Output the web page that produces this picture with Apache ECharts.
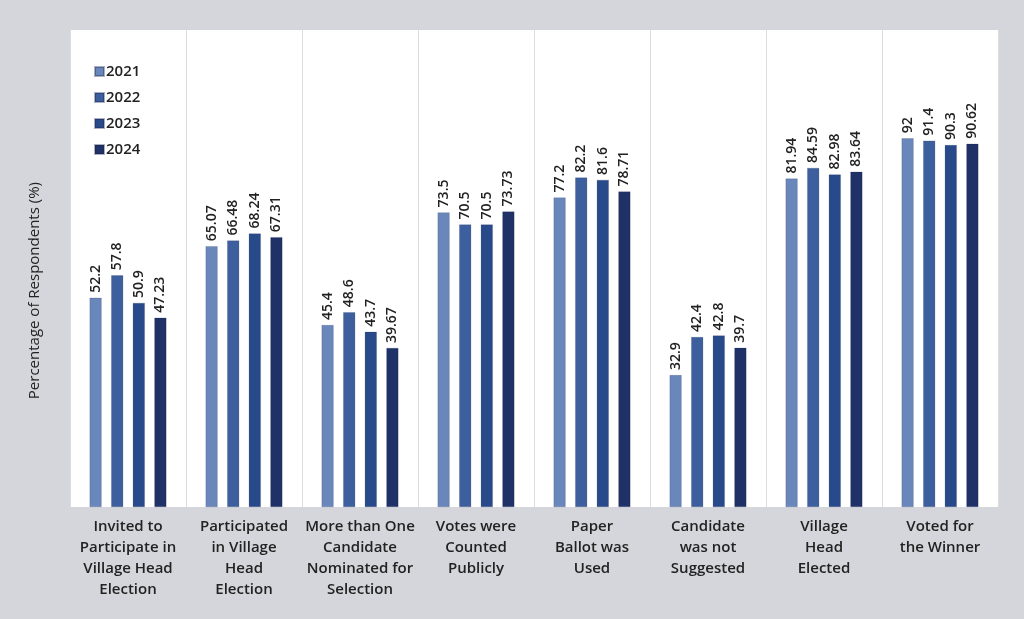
<!DOCTYPE html>
<html><head><meta charset="utf-8">
<script src="https://cdn.jsdelivr.net/npm/echarts@6/dist/echarts.min.js"></script>
<style>html,body{margin:0;padding:0;background:#d5d6db}#c{width:1024px;height:619px}</style>
</head><body><div id="c"></div>
<script>
const categories = [
  "Invited to\nParticipate in\nVillage Head\nElection",
  "Participated\nin Village\nHead\nElection",
  "More than One\nCandidate\nNominated for\nSelection",
  "Votes were\nCounted\nPublicly",
  "Paper\nBallot was\nUsed",
  "Candidate\nwas not\nSuggested",
  "Village\nHead\nElected",
  "Voted for\nthe Winner"
];
const years = ["2021", "2022", "2023", "2024"];
const v2021 = [52.2, 65.07, 45.4, 73.5, 77.2, 32.9, 81.94, 92];
const v2022 = [57.8, 66.48, 48.6, 70.5, 82.2, 42.4, 84.59, 91.4];
const v2023 = [50.9, 68.24, 43.7, 70.5, 81.6, 42.8, 82.98, 90.3];
const v2024 = [47.23, 67.31, 39.67, 73.73, 78.71, 39.7, 83.64, 90.62];
const colors = ["#6a87bc", "#3d5f9e", "#284a8a", "#1f3166"];
const seriesData = [v2021, v2022, v2023, v2024];

const chart = echarts.init(document.getElementById('c'));
chart.setOption({
  backgroundColor: '#d5d6db',
  animation: false,
  textStyle: { fontFamily: 'Open Sans' },
  legend: {
    orient: 'vertical', left: 89, top: 59, itemGap: 11,
    itemWidth: 9, itemHeight: 9, icon: 'rect',
    textStyle: { fontSize: 15, fontWeight: 600, color: '#222', padding: [0, 0, 0, -3] },
    data: years
  },
  grid: { left: 70, right: 26, top: 30, bottom: 112, show: true, backgroundColor: '#fff', borderWidth: 0 },
  xAxis: {
    type: 'category', data: categories,
    axisLine: { show: false }, axisTick: { show: false },
    splitLine: { show: true, lineStyle: { color: '#dcdcdc', width: 1 } },
    axisLabel: { interval: 0, fontSize: 15, fontWeight: 600, color: '#222', lineHeight: 21, margin: 9 }
  },
  yAxis: {
    type: 'value', min: 0, max: 119,
    axisLabel: { show: false }, axisTick: { show: false }, axisLine: { show: false },
    splitLine: { show: false }
  },
  graphic: [{
    type: 'text', left: 27, top: 182, rotation: Math.PI / 2,
    style: { text: 'Percentage of Respondents (%)', fontSize: 15, fill: '#222', fontFamily: 'Open Sans' }
  }],
  series: seriesData.map((d, i) => ({
    name: years[i], type: 'bar', data: d,
    barWidth: 12, barGap: '80%',
    itemStyle: { color: colors[i], borderColor: 'rgba(20,30,70,0.35)', borderWidth: 0.5 },
    label: {
      show: true, position: 'top', rotate: 90, align: 'left', verticalAlign: 'middle',
      distance: 5, fontSize: 14, fontWeight: 600, color: '#222'
    }
  }))
});
</script></body></html>
